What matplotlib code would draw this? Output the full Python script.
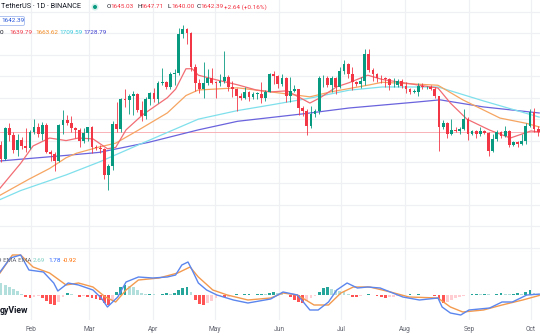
import matplotlib
matplotlib.use("Agg")
import matplotlib.pyplot as plt
import matplotlib.dates as mdates
from matplotlib.patches import Circle, FancyBboxPatch
import pandas as pd
import numpy as np

# ETHUSDT, candles grouped two days per bar (Jan 15/16 ... Oct 4/5, 2023)
first_bar = "2023-01-16"
first_open = 1552
closes = [1580, 1513, 1660, 1628, 1557, 1603, 1573, 1567, 1642, 1665,
          1632, 1673, 1547, 1539, 1506, 1674, 1694, 1680, 1660, 1651,
          1596, 1634, 1663, 1569, 1565, 1561, 1438, 1480, 1676, 1656,
          1792, 1790, 1806, 1818, 1743, 1716, 1793, 1822, 1792, 1868,
          1872, 1848, 1911, 1917, 2098, 2119, 2100, 1944, 1870, 1841,
          1867, 1892, 1870, 1869, 1877, 1896, 1851, 1841, 1807, 1798,
          1826, 1802, 1818, 1819, 1800, 1828, 1910, 1902, 1862, 1890,
          1809, 1832, 1839, 1751, 1739, 1667, 1726, 1736, 1890, 1893,
          1858, 1890, 1849, 1924, 1955, 1910, 1871, 1862, 1878, 2006,
          1929, 1912, 1894, 1891, 1889, 1858, 1858, 1879, 1856, 1840,
          1826, 1828, 1855, 1848, 1852, 1842, 1807, 1662, 1682, 1633,
          1651, 1643, 1653, 1703, 1630, 1645, 1633, 1645, 1635, 1551,
          1606, 1642, 1621, 1646, 1581, 1592, 1586, 1597, 1670, 1733,
          1656, 1642.39]
highs = [1602, 1600, 1665, 1680, 1640, 1630, 1618, 1660, 1650, 1700,
         1680, 1685, 1680, 1555, 1545, 1678, 1743, 1720, 1715, 1665,
         1660, 1660, 1665, 1670, 1580, 1580, 1565, 1490, 1690, 1780,
         1800, 1840, 1815, 1830, 1820, 1785, 1805, 1825, 1845, 1880,
         1937, 1880, 1920, 1935, 2125, 2141, 2125, 2105, 1955, 1885,
         1965, 1935, 1940, 1880, 1910, 2020, 1905, 1880, 1845, 1820,
         1850, 1830, 1825, 1825, 1875, 1835, 1915, 1925, 1905, 1910,
         1895, 1895, 1860, 1840, 1760, 1745, 1760, 1745, 1900, 1905,
         1900, 1900, 1895, 1945, 1975, 1960, 1945, 1880, 1895, 2025,
         2029, 1940, 1915, 1905, 1895, 1893, 1890, 1885, 1885, 1875,
         1845, 1840, 1870, 1870, 1855, 1860, 1850, 1810, 1695, 1685,
         1700, 1665, 1665, 1745, 1710, 1650, 1650, 1665, 1650, 1640,
         1630, 1650, 1645, 1670, 1650, 1600, 1600, 1630, 1680, 1745,
         1750, 1670]
lows = [1530, 1500, 1510, 1600, 1540, 1530, 1560, 1545, 1560, 1630,
        1615, 1605, 1540, 1505, 1460, 1500, 1630, 1675, 1640, 1610,
        1570, 1590, 1600, 1540, 1555, 1540, 1420, 1368, 1465, 1640,
        1640, 1755, 1725, 1720, 1735, 1690, 1700, 1765, 1780, 1775,
        1860, 1840, 1840, 1860, 1905, 2080, 2050, 1925, 1830, 1820,
        1800, 1860, 1865, 1800, 1855, 1870, 1830, 1805, 1740, 1790,
        1795, 1785, 1795, 1795, 1775, 1785, 1825, 1865, 1845, 1855,
        1780, 1780, 1825, 1720, 1715, 1626, 1660, 1710, 1725, 1850,
        1850, 1825, 1815, 1845, 1910, 1890, 1835, 1855, 1845, 1860,
        1920, 1880, 1875, 1870, 1850, 1835, 1850, 1850, 1845, 1820,
        1815, 1820, 1810, 1840, 1840, 1835, 1800, 1550, 1655, 1610,
        1625, 1640, 1630, 1650, 1605, 1625, 1610, 1620, 1630, 1530,
        1545, 1600, 1610, 1615, 1570, 1575, 1570, 1580, 1585, 1665,
        1640, 1620]

# moving averages (EMA 20 / 50 / 100 / 200)
ema20_dates = ["2023-01-17", "2023-01-27", "2023-02-02", "2023-02-10", "2023-02-18",
               "2023-02-24", "2023-03-03", "2023-03-10", "2023-03-14", "2023-03-19",
               "2023-03-27", "2023-04-08", "2023-04-12", "2023-04-17", "2023-04-20",
               "2023-04-23", "2023-05-01", "2023-05-12", "2023-05-21", "2023-05-28",
               "2023-06-05", "2023-06-16", "2023-06-21", "2023-06-29", "2023-07-05",
               "2023-07-14", "2023-07-21", "2023-08-17", "2023-08-23", "2023-08-31",
               "2023-09-11", "2023-09-21", "2023-10-01", "2023-10-05"]
ema20 = [1378, 1494, 1575, 1612, 1600, 1612, 1608, 1562, 1568, 1650,
         1720, 1800, 1840, 1935, 1935, 1905, 1885, 1860, 1836, 1827,
         1832, 1775, 1800, 1851, 1870, 1905, 1885, 1845, 1775, 1700,
         1649, 1612, 1645, 1639.79]

ema50_dates = ["2023-01-17", "2023-01-31", "2023-02-10", "2023-02-18", "2023-02-23",
               "2023-03-06", "2023-03-14", "2023-03-25", "2023-04-08", "2023-04-17",
               "2023-04-23", "2023-05-12", "2023-05-28", "2023-06-16", "2023-06-26",
               "2023-07-15", "2023-07-21", "2023-08-17", "2023-08-29", "2023-09-16",
               "2023-09-29", "2023-10-05"]
ema50 = [1345, 1420, 1470, 1520, 1541, 1570, 1588, 1649, 1729, 1810,
         1836, 1846, 1827, 1804, 1827, 1860, 1872, 1858, 1790, 1705,
         1680, 1663.62]

ema100_dates = ["2023-01-17", "2023-01-27", "2023-02-18", "2023-03-06", "2023-03-25",
                "2023-04-23", "2023-05-12", "2023-05-28", "2023-06-16", "2023-07-05",
                "2023-07-21", "2023-08-17", "2023-09-08", "2023-10-05"]
ema100 = [1325, 1367, 1440, 1500, 1580, 1700, 1740, 1766, 1798, 1835,
          1850, 1850, 1785, 1709.59]

ema200_dates = ["2023-01-17", "2023-02-18", "2023-03-06", "2023-03-30", "2023-04-23",
                "2023-05-12", "2023-06-13", "2023-07-05", "2023-08-07", "2023-08-18",
                "2023-09-08", "2023-10-05"]
ema200 = [1505, 1531, 1545, 1592, 1650, 1690, 1725, 1752, 1780, 1790,
          1757, 1728.79]

# MACD (12, 26, 9)
macd_dates = ["2023-01-17", "2023-01-22", "2023-01-27", "2023-01-31", "2023-02-07",
              "2023-02-12", "2023-02-14", "2023-02-19", "2023-02-24", "2023-03-03",
              "2023-03-07", "2023-03-10", "2023-03-15", "2023-03-19", "2023-03-25",
              "2023-04-01", "2023-04-08", "2023-04-12", "2023-04-15", "2023-04-18",
              "2023-04-20", "2023-04-23", "2023-04-27", "2023-05-02", "2023-05-10",
              "2023-05-17", "2023-05-28", "2023-06-03", "2023-06-10", "2023-06-16",
              "2023-06-20", "2023-06-25", "2023-06-29", "2023-07-04", "2023-07-09",
              "2023-07-14", "2023-07-20", "2023-07-31", "2023-08-08", "2023-08-17",
              "2023-08-19", "2023-08-23", "2023-08-28", "2023-09-01", "2023-09-11",
              "2023-09-17", "2023-09-22", "2023-09-29", "2023-10-05"]
macd = [46, 74, 80, 50, 46, 24, 8, 24, 20, 10,
        -6, -24, -4, 26, 36, 34, 36, 40, 60, 66,
        50, 24, 10, 0, -10, -16, -8, 6, 0, -30,
        -30, -14, 10, 24, 14, 16, 14, -4, -10, -6,
        -24, -36, -40, -30, -26, -14, -14, 0, 1.78]

signal_dates = ["2023-01-17", "2023-01-23", "2023-01-27", "2023-02-02", "2023-02-10",
                "2023-02-18", "2023-02-24", "2023-03-03", "2023-03-09", "2023-03-14",
                "2023-03-19", "2023-03-25", "2023-04-04", "2023-04-13", "2023-04-19",
                "2023-04-23", "2023-04-30", "2023-05-07", "2023-05-17", "2023-05-28",
                "2023-06-03", "2023-06-10", "2023-06-18", "2023-06-25", "2023-07-01",
                "2023-07-07", "2023-07-15", "2023-07-25", "2023-08-03", "2023-08-17",
                "2023-08-23", "2023-08-29", "2023-09-08", "2023-09-17", "2023-09-27",
                "2023-10-05"]
signal = [44, 80, 80, 56, 44, 20, 24, 16, -4, -14,
          10, 30, 34, 44, 56, 36, 10, 0, -10, -6,
          4, 0, -20, -20, 4, 16, 16, 6, -4, -6,
          -24, -34, -30, -20, -10, -0.92]

# histogram, one value per candle
hist = [26, 24, 21, 17, 13, 8, 3, -3, -5, -3,
        -2, -6, -12, -18, -20, -14, -4, 4, 3, 1,
        -3, -2, -4, -6, -8, -10, -16, -20, -10, 6,
        16, 20, 18, 16, 10, 4, 2, 3, 2, 1,
        3, 4, 2, 4, 10, 14, 16, 6, -10, -18,
        -20, -16, -12, -6, -2, -4, -3, 1, 2, 1,
        2, 2, 1, 2, 3, 2, 4, 6, 5, 3,
        1, -4, -10, -14, -16, -12, -6, -2, 6, 14,
        16, 12, 10, 8, 6, 2, -3, -4, -2, 1,
        3, 1, -2, -4, -5, -4, -3, -2, -1, 1,
        2, 1, 2, 1, 1, 0, -2, -10, -16, -14,
        -10, -6, -3, -1, 1, 2, 3, 2, 3, 2,
        1, 3, 4, 3, 2, 3, 4, 3, 6, 10,
        5, 2.69]

UP = "#089981"
DOWN = "#F23645"
W, H = 540, 336

plt.rcParams["font.family"] = ["Roboto", "DejaVu Sans"]

fig = plt.figure(figsize=(W / 100, H / 100), dpi=100, facecolor="white")
ax = fig.add_axes([0, (H - 251.5) / H, 1, 251.5 / H])
axm = fig.add_axes([0, (H - 320) / H, 1, (320 - 252) / H])

bar_x = pd.date_range(first_bar, periods=len(closes), freq="2D") - pd.Timedelta(hours=12)
bx = mdates.date2num(bar_x)
c = np.array(closes, dtype=float)
o = np.concatenate([[first_open], c[:-1]])
hi = np.array(highs, dtype=float)
lo = np.array(lows, dtype=float)
col = np.where(c >= o, UP, DOWN)

x0 = mdates.date2num(pd.Timestamp("2023-01-17"))
x1 = x0 + W / 2.066
months = pd.date_range("2023-02-01", "2023-10-01", freq="MS")

for a in (ax, axm):
    a.set_xlim(x0, x1)
    a.set_xticks(mdates.date2num(months))
    a.grid(axis="x", color="#EEF0F4", lw=0.9)
    a.set_axisbelow(True)
    for s in a.spines.values():
        s.set_visible(False)
    a.tick_params(length=0)

ax.set_ylim(1082.9, 2255.5)
ax.set_yticks(np.arange(1100, 2300, 100))
ax.grid(axis="y", color="#EEF0F4", lw=0.9)
ax.set_xticklabels([])
ax.set_yticklabels([])
ax.spines["bottom"].set_visible(True)
ax.spines["bottom"].set_color("#E0E3EB")
ax.spines["bottom"].set_linewidth(0.8)

# last price line
ax.axhline(closes[-1], color="#F7A6AC", lw=0.6, zorder=1)

# moving averages
ax.plot(mdates.date2num(pd.to_datetime(ema200_dates)), ema200, color="#6A63DD", lw=0.9, zorder=2)
ax.plot(mdates.date2num(pd.to_datetime(ema100_dates)), ema100, color="#7FE0EC", lw=0.9, zorder=2)
ax.plot(mdates.date2num(pd.to_datetime(ema50_dates)), ema50, color="#F6A561", lw=0.9, zorder=2)
ax.plot(mdates.date2num(pd.to_datetime(ema20_dates)), ema20, color="#F26D74", lw=0.9, zorder=2)

# candles
ax.vlines(bx, lo, hi, colors=col, lw=0.6, zorder=3)
body = np.maximum(np.abs(c - o), 3)
ax.bar(bx, body, bottom=np.minimum(o, c), width=1.35, color=col, lw=0, zorder=4)

# MACD pane
axm.set_ylim(-50, 86)
axm.set_yticks([])
h = np.array(hist, dtype=float)
prev = np.concatenate([[h[0]], h[:-1]])
hcol = np.where(h >= 0,
                np.where(h >= prev, "#26A69A", "#B2DFDB"),
                np.where(h <= prev, "#FF5252", "#FFCDD2"))
axm.bar(bx, h, width=1.35, color=hcol, lw=0, zorder=2)
axm.plot(mdates.date2num(pd.to_datetime(signal_dates)), signal, color="#F39A4E", lw=1.0, zorder=3)
axm.plot(mdates.date2num(pd.to_datetime(macd_dates)), macd, color="#5B86EE", lw=1.0, zorder=4)
axm.xaxis.set_major_formatter(mdates.DateFormatter("%b"))
axm.tick_params(axis="x", labelsize=4.8, labelcolor="#5D606B", pad=4)

# header / legend texts drawn in pixel space
hud = fig.add_axes([0, 0, 1, 1], facecolor="none")
hud.set_xlim(0, W)
hud.set_ylim(H, 0)
hud.axis("off")

fs = 4.6
dark = "#131722"
red = "#F23645"
hud.text(1, 7, "TetherUS · 1D · BINANCE", fontsize=5.2, color=dark, va="center")
hud.add_patch(Circle((95, 7), 3.6, color="#D3EFE9", lw=0))
hud.add_patch(Circle((95, 7), 2.0, color=UP, lw=0))
for lx, letter, val in [(107, "O", "1645.03"), (137, "H", "1647.71"),
                        (168, "L", "1640.00"), (197, "C", "1642.39")]:
    hud.text(lx, 7, letter, fontsize=fs, color=dark, va="center")
    hud.text(lx + 3.8, 7, val, fontsize=fs, color=red, va="center")
hud.text(224, 7, "+2.64 (+0.16%)", fontsize=fs, color=red, va="center")

hud.add_patch(FancyBboxPatch((-4, 16.5), 28.5, 9, boxstyle="round,pad=0,rounding_size=1.5",
                             fc="white", ec="#AFC4F0", lw=0.7))
hud.text(1.5, 21, "1642.39", fontsize=fs, color="#2857D9", va="center")

hud.text(-0.5, 33, "0", fontsize=fs, color=dark, va="center")
for lx, val, cc in [(9, "1639.79", "#F23645"), (35, "1663.62", "#F58A1F"),
                    (59, "1709.59", "#33C9DC"), (83, "1728.79", "#3F3FD0")]:
    hud.text(lx, 33, val, fontsize=fs, color=cc, va="center")

hud.text(-1.5, 260, "9 EMA EMA", fontsize=fs, color="#6A6D78", va="center")
hud.text(33, 260, "2.69", fontsize=fs, color="#7FCFC3", va="center")
hud.text(48, 260, "1.78", fontsize=fs, color="#2962FF", va="center")
hud.text(63, 260, "-0.92", fontsize=fs, color="#FF6D00", va="center")

hud.text(-0.5, 310.5, "gyView", fontsize=6.3, fontweight="bold", color=dark, va="center")

fig.savefig("out.png", dpi=100, facecolor="white")
